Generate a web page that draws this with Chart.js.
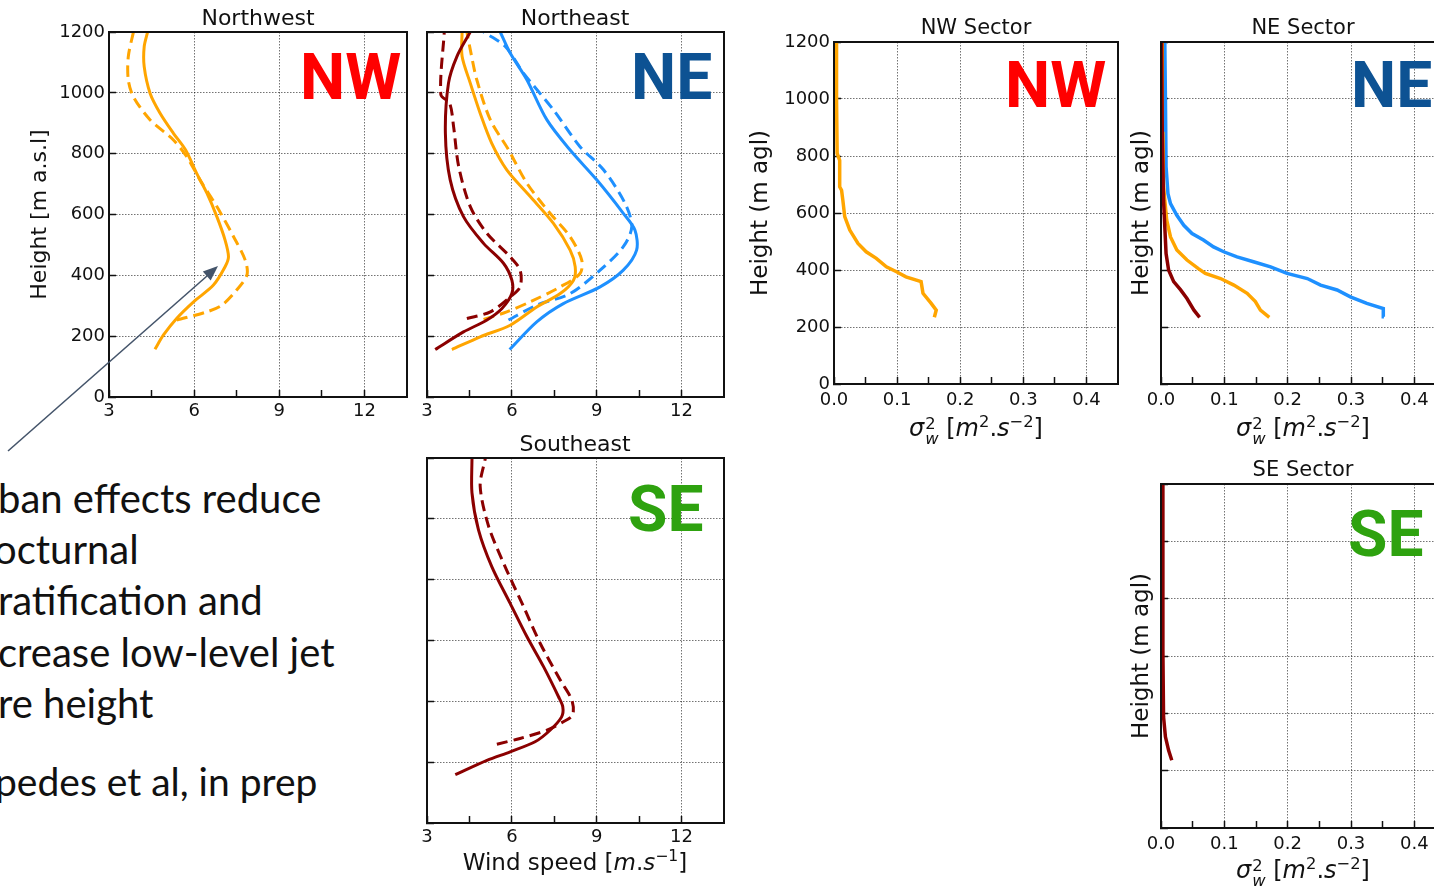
<!DOCTYPE html>
<html>
<head>
<meta charset="utf-8">
<script src="https://cdn.jsdelivr.net/npm/chart.js@4.4.0/dist/chart.umd.min.js"></script>
<style>
body { margin: 0; width: 1434px; height: 889px; overflow: hidden; background: #fff; position: relative; font-family: "DejaVu Sans"; }
.box { position: absolute; }
.t { position: absolute; white-space: nowrap; transform: translate(-50%, -50%); font-size: 21px; color: #111; }
.t sup { font-size: 0.68em; line-height: 0; vertical-align: 0.55em; }
.st { display: inline-flex; flex-direction: column; font-size: 0.68em; line-height: 0.95; vertical-align: 0.45em; margin-left: 1px; }
.big { position: absolute; font-family: Roboto; font-weight: 700; font-size: 64px; line-height: 1; white-space: nowrap; z-index: 3; }
.note { position: absolute; font-family: Lato; font-size: 40px; line-height: 1; white-space: nowrap; color: #111; }
svg { position: absolute; left: 0; top: 0; z-index: 4; pointer-events: none; }
</style>
</head>
<body>

<div class="box" id="pNW"></div>
<div class="box" id="pNE"></div>
<div class="box" id="pSE"></div>
<div class="box" id="vNW"></div>
<div class="box" id="vNE"></div>
<div class="box" id="vSE"></div>

<div class="t" style="left:258px;top:17px;font-size:22px">Northwest</div>
<div class="t" style="left:575px;top:17px;font-size:22px">Northeast</div>
<div class="t" style="left:575px;top:443px;font-size:22px">Southeast</div>
<div class="t" style="left:976px;top:27px">NW Sector</div>
<div class="t" style="left:1303px;top:27px">NE Sector</div>
<div class="t" style="left:1303px;top:469px">SE Sector</div>

<div class="t" style="left:575px;top:862px;font-size:23px">Wind speed [<i>m</i>.<i>s</i><sup>−1</sup>]</div>
<div class="t" style="left:976px;top:430px;font-size:24px"><i>σ</i><span class="st"><span>2</span><i>w</i></span> [<i>m</i><sup>2</sup>.<i>s</i><sup>−2</sup>]</div>
<div class="t" style="left:1303px;top:430px;font-size:24px"><i>σ</i><span class="st"><span>2</span><i>w</i></span> [<i>m</i><sup>2</sup>.<i>s</i><sup>−2</sup>]</div>
<div class="t" style="left:1303px;top:872px;font-size:24px"><i>σ</i><span class="st"><span>2</span><i>w</i></span> [<i>m</i><sup>2</sup>.<i>s</i><sup>−2</sup>]</div>

<div class="big" style="left:300px;top:46px;color:#ff0000">NW</div>
<div class="big" style="left:631px;top:46px;color:#0d5293">NE</div>
<div class="big" style="left:628px;top:478px;color:#2ea20f">SE</div>
<div class="big" style="left:1005px;top:54px;color:#ff0000">NW</div>
<div class="big" style="left:1351px;top:54px;color:#0d5293">NE</div>
<div class="big" style="left:1348px;top:503px;color:#2ea20f">SE</div>

<div class="note" style="left:-2px;top:478px">ban effects reduce</div>
<div class="note" style="left:-6px;top:529px">octurnal</div>
<div class="note" style="left:-2px;top:580px">ratification and</div>
<div class="note" style="left:-2px;top:632px">crease low-level jet</div>
<div class="note" style="left:-2px;top:683px">re height</div>
<div class="note" style="left:-5px;top:762px;font-size:39px">pedes et al, in prep</div>

<svg width="1434" height="889">
  <line x1="8" y1="451" x2="207" y2="276" stroke="#44546a" stroke-width="1.6"/>
  <polygon points="218,266 210.7,280.4 202.8,271.4" fill="#44546a"/>
</svg>

<script>
// wind speed profiles: heights (m a.s.l.) and speeds (m/s), solid / dashed
const nwSolidH = [157, 204, 259, 313, 368, 428, 461, 516, 593, 670, 735, 812, 867, 933, 998, 1086, 1152, 1200];
const nwSolidV = [4.62, 4.92, 5.39, 5.98, 6.68, 7.09, 7.21, 7.09, 6.80, 6.45, 6.09, 5.70, 5.27, 4.80, 4.45, 4.24, 4.24, 4.36];
const nwDashH = [253, 280, 302, 352, 401, 450, 527, 626, 713, 790, 845, 911, 987, 1042, 1119, 1200];
const nwDashV = [5.39, 6.45, 6.98, 7.50, 7.86, 7.80, 7.39, 6.80, 6.21, 5.74, 5.27, 4.45, 3.86, 3.68, 3.68, 3.86];

const neRedSolidH = [156, 214, 253, 291, 340, 384, 439, 505, 593, 714, 867, 1032, 1120, 1200];
const neRedSolidV = [3.29, 4.29, 5.12, 5.65, 6.00, 6.00, 5.71, 5.00, 4.29, 3.82, 3.65, 3.76, 4.06, 4.53];
const neRedDashH = [258, 280, 329, 362, 417, 461, 538, 626, 758, 889, 966, 994, 1200];
const neRedDashV = [4.41, 5.24, 5.94, 6.29, 6.29, 5.94, 5.12, 4.53, 4.12, 3.94, 3.80, 3.49, 3.61];

const neOrangeSolidH = [156, 198, 236, 296, 340, 384, 428, 483, 571, 659, 747, 834, 933, 1032, 1120, 1200];
const neOrangeSolidV = [3.88, 4.88, 5.94, 6.88, 7.71, 8.18, 8.24, 8.06, 7.47, 6.65, 5.82, 5.29, 4.88, 4.53, 4.24, 4.24];
const neOrangeDashH = [255, 280, 313, 362, 406, 450, 527, 604, 703, 813, 911, 1043, 1142, 1200];
const neOrangeDashV = [5.00, 5.82, 6.65, 7.71, 8.41, 8.47, 8.06, 7.35, 6.53, 5.88, 5.24, 4.76, 4.53, 4.41];

const neBlueSolidH = [156, 247, 307, 362, 417, 483, 549, 604, 714, 812, 911, 1043, 1131, 1200];
const neBlueSolidV = [5.92, 6.88, 7.82, 9.12, 9.94, 10.41, 10.35, 9.94, 9.00, 8.06, 7.24, 6.53, 5.94, 5.59];
const neBlueDashH = [253, 302, 340, 417, 494, 560, 637, 747, 823, 944, 1065, 1153, 1200];
const neBlueDashV = [5.88, 6.88, 8.06, 9.12, 9.94, 10.24, 10.00, 9.24, 8.41, 7.47, 6.41, 5.76, 5.00];

const seSolidH = [159, 206, 234, 267, 305, 349, 382, 415, 514, 613, 722, 843, 964, 1085, 1198];
const seSolidV = [4.00, 5.12, 5.94, 6.82, 7.35, 7.76, 7.80, 7.65, 7.12, 6.53, 5.94, 5.29, 4.82, 4.59, 4.59];
const seDashH = [259, 278, 305, 333, 355, 404, 470, 591, 712, 843, 975, 1107, 1198];
const seDashV = [5.47, 6.29, 7.24, 7.82, 8.15, 8.12, 7.71, 7.00, 6.41, 5.76, 5.18, 4.88, 5.06];

// vertical velocity variance profiles: heights (m agl) and sigma_w^2
const varNwH = [234, 259, 283, 318, 359, 376, 394, 411, 441, 464, 493, 540, 587, 645, 680, 692, 785, 809, 996, 1200];
const varNwV = [0.159, 0.162, 0.154, 0.141, 0.138, 0.114, 0.099, 0.083, 0.067, 0.051, 0.038, 0.025, 0.017, 0.014, 0.012, 0.009, 0.009, 0.005, 0.004, 0.004];
const varNeBlueH = [236, 265, 283, 306, 330, 347, 370, 388, 411, 429, 446, 464, 481, 505, 528, 557, 592, 633, 668, 762, 996, 1200];
const varNeBlueV = [0.352, 0.351, 0.325, 0.299, 0.278, 0.252, 0.231, 0.199, 0.173, 0.146, 0.120, 0.099, 0.083, 0.067, 0.049, 0.036, 0.025, 0.015, 0.011, 0.008, 0.007, 0.006];
const varNeOrangeH = [234, 259, 289, 318, 347, 370, 388, 405, 435, 470, 516, 575, 692, 879, 1200];
const varNeOrangeV = [0.171, 0.157, 0.149, 0.136, 0.115, 0.094, 0.070, 0.059, 0.041, 0.025, 0.015, 0.009, 0.004, 0.003, 0.002];
const varNeRedH = [234, 259, 300, 330, 359, 400, 458, 645, 879, 1200];
const varNeRedV = [0.061, 0.052, 0.041, 0.031, 0.020, 0.012, 0.008, 0.004, 0.002, 0.001];
const varSeH = [236, 271, 318, 388, 620, 970, 1200];
const varSeV = [0.017, 0.012, 0.007, 0.004, 0.003, 0.003, 0.003];

// axis ticks (every other one is a minor tick without label)
const heightTicks = [0, 200, 400, 600, 800, 1000, 1200];
const windTicks = [3, 4.5, 6, 7.5, 9, 10.5, 12];
const varTicks = [0, 0.05, 0.1, 0.15, 0.2, 0.25, 0.3, 0.35, 0.4];

const ORANGE = "#ffa500";
const DARKRED = "#8b0000";
const BLUE = "#1e90ff";
const GRID = "rgba(0,0,0,0.55)";

function profile(heights, values, color, dashed, width, tension) {
    return {
        data: heights.map((h, i) => ({ x: values[i], y: h })),
        borderColor: color,
        borderWidth: width,
        borderDash: dashed ? [11, 6] : [],
        showLine: true,
        pointRadius: 0,
        tension: tension,
        fill: false
    };
}

const frame = {
    id: "frame",
    afterDraw(chart) {
        const a = chart.chartArea, c = chart.ctx;
        c.save();
        c.setLineDash([]);
        c.strokeStyle = "#111";
        c.lineWidth = 2;
        c.strokeRect(a.left, a.top, a.right - a.left, a.bottom - a.top);
        c.restore();
    }
};

function makePanel(id, area, cfg) {
    const L = area[0], T = area[1], R = area[2], B = area[3];
    const padTop = 14, padRight = 8;
    const box = document.getElementById(id);
    box.style.left = (L - cfg.yW) + "px";
    box.style.top = (T - padTop) + "px";
    box.style.width = (R - L + cfg.yW + padRight) + "px";
    box.style.height = (B - T + padTop + cfg.xH) + "px";
    const canvas = document.createElement("canvas");
    box.appendChild(canvas);

    new Chart(canvas, {
        type: "scatter",
        data: { datasets: cfg.datasets },
        plugins: [frame],
        options: {
            responsive: true,
            maintainAspectRatio: false,
            animation: false,
            layout: { padding: { top: padTop, right: padRight, left: 0, bottom: 0 } },
            plugins: { legend: { display: false }, tooltip: { enabled: false } },
            scales: {
                x: {
                    type: "linear",
                    min: cfg.xMin,
                    max: cfg.xMax,
                    afterBuildTicks: s => { s.ticks = cfg.xTicks.map(v => ({ value: v })); },
                    afterFit: s => { s.height = cfg.xH; s.paddingLeft = 0; s.paddingRight = 0; },
                    ticks: {
                        color: "#111",
                        font: { family: "DejaVu Sans", size: 18 },
                        padding: cfg.xPad,
                        maxRotation: 0,
                        autoSkip: false,
                        callback: (v, i) => i % 2 === 0 ? cfg.xFmt(cfg.xTicks[i]) : ""
                    },
                    grid: {
                        color: ctx => (ctx.index % 2 === 0 && ctx.index > 0) ? GRID : "rgba(0,0,0,0)",
                        lineWidth: 1,
                        tickColor: "#111",
                        tickLength: -7,
                        tickWidth: 1.5,
                        tickBorderDash: []
                    },
                    border: { display: true, color: "#111", width: 2, dash: [1.5, 1.5] }
                },
                y: {
                    type: "linear",
                    min: 0,
                    max: 1200,
                    afterBuildTicks: s => { s.ticks = heightTicks.map(v => ({ value: v })); },
                    afterFit: s => { s.width = cfg.yW; s.paddingTop = 0; s.paddingBottom = 0; },
                    ticks: {
                        display: cfg.yLabels,
                        color: "#111",
                        font: { family: "DejaVu Sans", size: 18 },
                        padding: 11,
                        callback: v => String(v)
                    },
                    title: {
                        display: !!cfg.yTitle,
                        text: cfg.yTitle || "",
                        color: "#111",
                        font: { family: "DejaVu Sans", size: cfg.yTitleSize || 22 },
                        padding: 4
                    },
                    grid: {
                        color: ctx => (ctx.tick.value > 0 && ctx.tick.value < 1200) ? GRID : "rgba(0,0,0,0)",
                        lineWidth: 1,
                        tickColor: "#111",
                        tickLength: -7,
                        tickWidth: 1.5,
                        tickBorderDash: []
                    },
                    border: { display: true, color: "#111", width: 2, dash: [1.5, 1.5] }
                }
            }
        }
    });
}

const windAxis = { xMin: 3, xMax: 13.5, xTicks: windTicks, xFmt: v => String(v), xH: 30, xPad: 11 };
const varAxis = { xMin: 0, xMax: 0.45, xTicks: varTicks, xFmt: v => v.toFixed(1), xH: 30, xPad: 13 };

makePanel("pNW", [109, 32, 407, 397], Object.assign({}, windAxis, {
    yW: 86, yLabels: true, yTitle: "Height [m a.s.l]",
    datasets: [
        profile(nwSolidH, nwSolidV, ORANGE, false, 3, 0.3),
        profile(nwDashH, nwDashV, ORANGE, true, 3, 0.3)
    ]
}));

makePanel("pNE", [427, 32, 724, 397], Object.assign({}, windAxis, {
    yW: 10, yLabels: false,
    datasets: [
        profile(neRedSolidH, neRedSolidV, DARKRED, false, 3, 0.3),
        profile(neRedDashH, neRedDashV, DARKRED, true, 3, 0.3),
        profile(neOrangeSolidH, neOrangeSolidV, ORANGE, false, 3, 0.3),
        profile(neOrangeDashH, neOrangeDashV, ORANGE, true, 3, 0.3),
        profile(neBlueSolidH, neBlueSolidV, BLUE, false, 3, 0.3),
        profile(neBlueDashH, neBlueDashV, BLUE, true, 3, 0.3)
    ]
}));

makePanel("pSE", [427, 458, 724, 823], Object.assign({}, windAxis, {
    yW: 10, yLabels: false,
    datasets: [
        profile(seSolidH, seSolidV, DARKRED, false, 3, 0.3),
        profile(seDashH, seDashV, DARKRED, true, 3, 0.3)
    ]
}));

makePanel("vNW", [834, 42, 1118, 384], Object.assign({}, varAxis, {
    yW: 91, yLabels: true, yTitle: "Height (m agl)", yTitleSize: 23,
    datasets: [
        profile(varNwH, varNwV, ORANGE, false, 3.5, 0)
    ]
}));

makePanel("vNE", [1161, 42, 1446, 384], Object.assign({}, varAxis, {
    yW: 37, yLabels: false, yTitle: "Height (m agl)", yTitleSize: 23,
    datasets: [
        profile(varNeRedH, varNeRedV, DARKRED, false, 3.5, 0),
        profile(varNeOrangeH, varNeOrangeV, ORANGE, false, 3.5, 0),
        profile(varNeBlueH, varNeBlueV, BLUE, false, 3.5, 0)
    ]
}));

makePanel("vSE", [1161, 484, 1446, 828], Object.assign({}, varAxis, {
    yW: 37, yLabels: false, yTitle: "Height (m agl)", yTitleSize: 23,
    datasets: [
        profile(varSeH, varSeV, DARKRED, false, 3.5, 0)
    ]
}));
</script>
</body>
</html>
